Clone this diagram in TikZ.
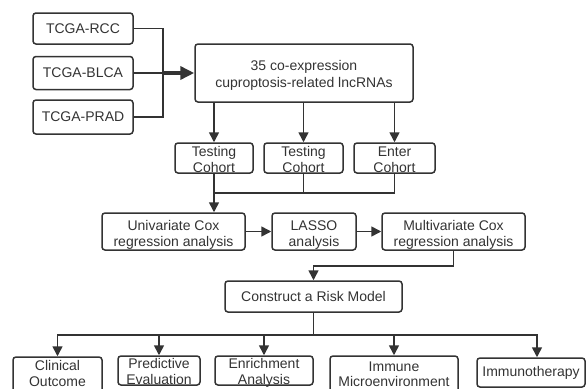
\documentclass[tikz,border=0pt]{standalone}
\usepackage{fontspec}
\setmainfont{Liberation Sans}
\usetikzlibrary{arrows.meta}
\definecolor{darkline}{HTML}{333333}
\tikzset{
  box/.style={draw=darkline,line width=1.5pt,rounded corners=3pt,align=center,
    text=darkline,inner sep=0pt,font=\fontsize{14}{16.5}\selectfont},
  link/.style={draw=darkline,line width=1.6pt}
}
\begin{document}
\begin{tikzpicture}[x=1pt,y=-1pt,>={Triangle[length=10pt,width=10pt]}]
  \useasboundingbox (0,0) rectangle (586,388);
  \clip (0,0) rectangle (586,388);

  % Datasets
  \node[box,minimum width=100,minimum height=31] (rcc) at (83,28.5) {TCGA-RCC};
  \node[box,minimum width=100,minimum height=33] (blca) at (83,73) {TCGA-BLCA};
  \node[box,minimum width=100,minimum height=34] (prad) at (83,117) {TCGA-PRAD};

  \node[box,minimum width=218,text height=43.3,text depth=14.7] (lnc) at (304,73) {35 co-expression\\cuproptosis-related lncRNAs};

  \coordinate (join) at (163,73);
  \draw[link] (rcc) -| (join);
  \draw[link] (prad) -| (join);
  \draw[link] (blca) -- (join);
  \draw[link,-{Triangle[length=14pt,width=13pt]},line width=3.5pt] (join) -- (lnc);

  % Cohorts
  \node[box,font=\fontsize{14}{15.5}\selectfont,minimum width=78,text height=29.4,text depth=0.6] (coh1) at (214,158) {Testing\\Cohort};
  \node[box,font=\fontsize{14}{15.5}\selectfont,minimum width=79,text height=29.4,text depth=0.6] (coh2) at (303.5,158) {Testing\\Cohort};
  \node[box,font=\fontsize{14}{15.5}\selectfont,minimum width=81,text height=29.4,text depth=0.6] (coh3) at (394.5,158) {Enter\\Cohort};

  \foreach \c in {coh1,coh2,coh3}
    \draw[link,->] (lnc.south -| \c) -- (\c);

  % Cox models
  \node[box,minimum width=143,text height=33.5,text depth=3.5] (uni) at (173.5,231.5) {Univariate Cox\\regression analysis};
  \node[box,minimum width=84,text height=33.5,text depth=3.5] (lasso) at (314,231.5) {LASSO\\analysis};
  \node[box,minimum width=143,text height=33.5,text depth=3.5] (multi) at (453.5,231.5) {Multivariate Cox\\regression analysis};

  \coordinate (merge) at (214,193);
  \draw[link] (coh3) |- (merge);
  \draw[link] (coh2) |- (merge);
  \draw[link,->] (coh1) -- (coh1 |- uni.north);
  \draw[link,->] (uni) -- (lasso);
  \draw[link,->] (lasso) -- (multi);

  \node[box,minimum width=177,minimum height=31] (risk) at (313.5,296.5) {Construct a Risk Model};
  \draw[link,->] (multi.south) -- ++(0,15) -| (risk);

  % Outcomes
  \node[box,minimum width=89,text height=29.5,text depth=8.5] (clin) at (57.5,376) {Clinical\\Outcome};
  \node[box,minimum width=82,text height=28.5,text depth=0.5] (pred) at (159,370.5) {Predictive\\Evaluation};
  \node[box,minimum width=98,text height=28.5,text depth=0.5] (enr) at (264,370.5) {Enrichment\\Analysis};
  \node[box,font=\fontsize{14}{15}\selectfont,minimum width=128,text height=30,text depth=10] (imm) at (394,376) {Immune\\Microenvironment};
  \node[box,minimum width=108,minimum height=29] (immt) at (531,372.5) {Immunotherapy};

  \coordinate (bus) at (313.5,335);
  \draw[link] (risk) -- (bus);
  \foreach \o in {clin,pred,enr,imm}
    \draw[link,->] (bus) -| (\o);
  \draw[link,->] (bus) -| ([xshift=6]immt.north);

\end{tikzpicture}
\end{document}
